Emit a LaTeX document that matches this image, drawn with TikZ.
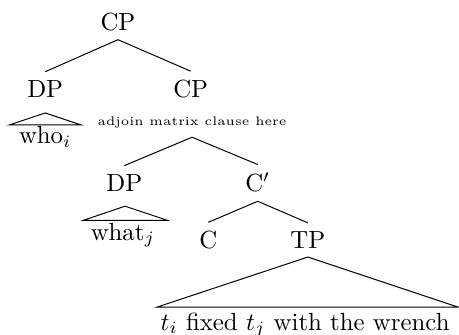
\documentclass[tikz,border=0pt]{standalone}
\usepackage{amsmath}
\usepackage{amssymb}
\usepackage{tikz}

\begin{document}
\begin{tikzpicture}
\useasboundingbox (0,0) rectangle (6.5,-4.73);
% top
\node (cp) at (1.67,-0.31) {CP};
\node (dpwho) at (0.64,-1.26) {DP};
\node (cpadj) at (2.70,-1.26) {CP};
\draw (cp.south) -- (dpwho.north);
\draw (cp.south) -- (cpadj.north);
% who
\node (who) at (0.64,-1.94) {who$_i$};
\coordinate (whotop) at (0.64,-1.60);
\coordinate (wholeft) at (0.13,-1.77);
\coordinate (whoright) at (1.15,-1.77);
\draw (whotop) -- (wholeft) -- (whoright) -- cycle;
\node (adj) at (2.72,-1.74) {\tiny adjoin matrix clause here};
% lower clause
\node (dpwhat) at (1.76,-2.59) {DP};
\node (cbar) at (3.65,-2.59) {C$'$};
\draw (adj.south) -- (dpwhat.north);
\draw (adj.south) -- (cbar.north);
\node (what) at (1.74,-3.33) {what$_j$};
\coordinate (whattop) at (1.77,-2.92);
\coordinate (whatleft) at (1.18,-3.12);
\coordinate (whatright) at (2.37,-3.12);
\draw (whattop) -- (whatleft) -- (whatright) -- cycle;
\node (c) at (2.95,-3.40) {C};
\node (tp) at (4.36,-3.40) {TP};
\draw (cbar.south) -- (c.north);
\draw (cbar.south) -- (tp.north);
\node (rest) at (4.32,-4.60) {$t_i$ fixed $t_j$ with the wrench};
\coordinate (tptop) at (4.36,-3.64);
\coordinate (tpleft) at (2.22,-4.35);
\coordinate (tpright) at (6.49,-4.35);
\draw (tptop) -- (tpleft) -- (tpright) -- cycle;
\end{tikzpicture}
\end{document}
